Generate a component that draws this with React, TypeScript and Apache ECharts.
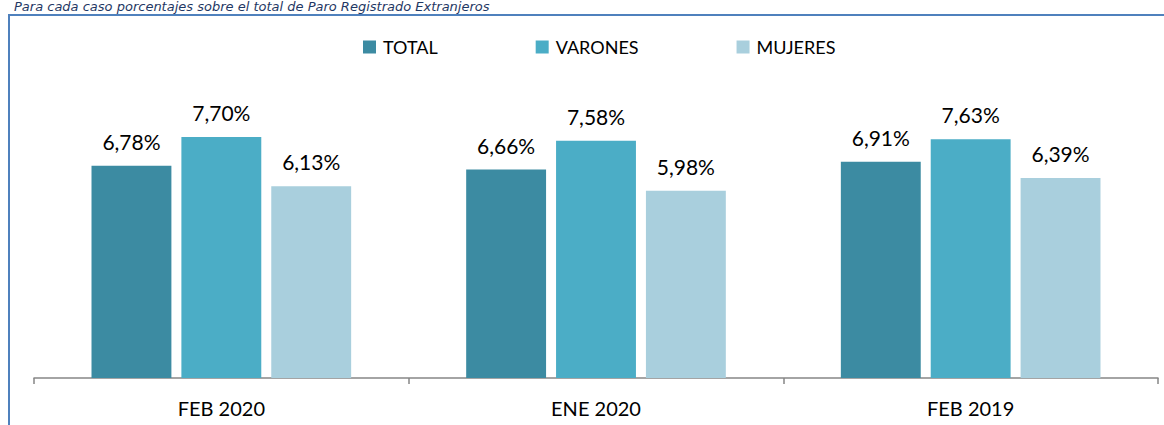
import React, { useEffect, useRef } from "react";
import * as echarts from "echarts";

const categories = ["FEB 2020", "ENE 2020", "FEB 2019"];
const seriesNames = ["TOTAL", "VARONES", "MUJERES"];
const totalValues = [6.78, 6.66, 6.91];
const varonesValues = [7.7, 7.58, 7.63];
const mujeresValues = [6.13, 5.98, 6.39];
const colors = ["#3C8BA2", "#4BADC6", "#A9CFDD"];
const subtitle = "Para cada caso porcentajes sobre el total de Paro Registrado Extranjeros";

const FONT = "Lato, 'Open Sans', sans-serif";

export default function App() {
  const ref = useRef<HTMLDivElement>(null);
  useEffect(() => {
    if (!ref.current) return;
    const chart = echarts.init(ref.current, null, { renderer: "svg" });
    const values = [totalValues, varonesValues, mujeresValues];
    chart.setOption({
      animation: false,
      backgroundColor: "#ffffff",
      textStyle: { fontFamily: FONT },
      legend: {
        top: 33,
        left: 358,
        itemWidth: 13,
        itemHeight: 13,
        itemGap: 98,
        icon: "rect",
        textStyle: { fontFamily: FONT, fontSize: 18, color: "#000000", padding: [0, 0, 0, 2] },
        data: seriesNames,
      },
      grid: { left: 34, right: 6, top: 65, bottom: 47 },
      xAxis: {
        type: "category",
        data: categories,
        axisLine: { lineStyle: { color: "#868686", width: 1.5 } },
        axisTick: { show: true, length: 6, lineStyle: { color: "#868686", width: 1.5 } },
        axisLabel: { fontFamily: FONT, fontSize: 20, color: "#000000", margin: 20 },
      },
      yAxis: {
        type: "value",
        min: 0,
        max: 10,
        show: false,
        splitLine: { show: false },
      },
      graphic: [
        {
          type: "text",
          left: 14,
          top: 0,
          style: {
            text: subtitle,
            font: "italic 13px 'DejaVu Sans', Verdana, sans-serif",
            fill: "#1F3864",
          },
        },
        {
          type: "polyline",
          shape: { points: [[9, 425], [9, 15], [1164, 15]] },
          style: { stroke: "#4F81BD", lineWidth: 2, fill: null },
        },
      ],
      series: seriesNames.map((name, i) => ({
        name,
        type: "bar",
        data: values[i],
        barGap: "12.5%",
        barCategoryGap: "30.7%",
        itemStyle: { color: colors[i] },
        label: {
          show: true,
          position: "top",
          distance: 14,
          fontFamily: FONT,
          fontSize: 21,
          color: "#000000",
          formatter: (p: any) => p.value.toFixed(2).replace(".", ",") + "%",
        },
      })),
    });
    return () => chart.dispose();
  }, []);
  return (
    <div
      ref={ref}
      style={{ position: "fixed", left: 0, top: 0, width: 1164, height: 425 }}
    />
  );
}
